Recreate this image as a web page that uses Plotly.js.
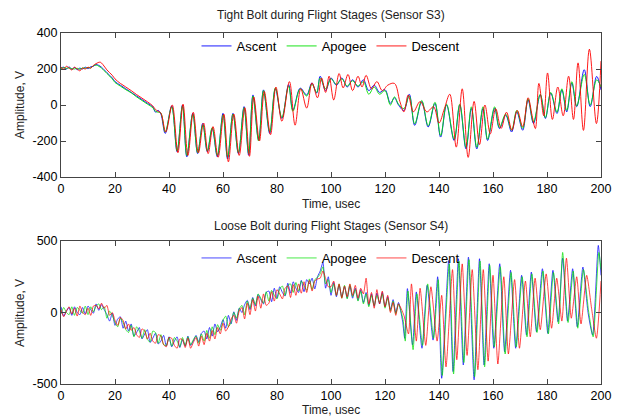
<!DOCTYPE html>
<html>
<head>
<meta charset="utf-8">
<script src="https://cdn.plot.ly/plotly-3.0.1.min.js"></script>
<style>html,body{margin:0;padding:0;background:#fff;}#chart{width:618px;height:417px;}</style>
</head>
<body>
<div id="chart"></div>
<script>
// ---------- Labels and ticks ----------
const seriesNames = ['Ascent', 'Apogee', 'Descent'];
const xTicks = [0, 20, 40, 60, 80, 100, 120, 140, 160, 180, 200];
const xTickText = ['0', '20', '40', '60', '80', '100', '120', '140', '160', '180', '200'];
const s3TickVals = [-400, -200, 0, 200, 400];
const s3TickText = ['-400', '-200', '0', '200', '400'];
const s4TickVals = [-500, 0, 500];
const s4TickText = ['-500', '0', '500'];

// ---------- Data: Tight Bolt (Sensor S3) ----------
// time (usec) shared by Ascent and Apogee traces of S3
const s3Time = [0,1,2,3,4,5,6,7,8,9,10,11,12,13,14,15,17,19,20,22,24,26,28,30,32,34,35,36,37,
  38.6,41,43,45,46.6,48.8,50.6,52.5,54.2,56,57.9,60,61.7,63.7,65.7,67.8,69.5,71.1,73.2,75,77.3,79.4,
  81.8,84.3,85.9,88.6,91,92.9,94.7,96,98,100,
  102,104,106,108,110,112,114,116,118,120,122,123.5,125,127,129,131,133.6,136,138.5,140.6,
  142.8,145.6,147.7,150,152,154,156.3,158,160.6,162.4,164.7,166.9,168.8,171,173,175,177.5,179.4,181.4,183.7,
  185.5,187.3,189.2,191,193.8,196,198.4,200];
const s3Ascent = [205,210,200,212,198,208,196,205,200,210,202,212,215,225,220,210,180,150,130,110,90,70,50,30,10,-10,-40,-30,-50,
  -158,-5,-260,0,-288,-46,-270,-102,-260,-130,-288,-46,-300,-46,-270,-9,-279,56,-195,84,-158,90,
  -75,113,-28,94,56,122,66,160,80,150,
  110,150,100,140,100,140,80,110,70,85,10,40,0,-30,60,-113,19,-122,9,-178,
  0,-197,0,-244,-19,-244,-19,-197,-19,-131,-56,-150,-38,-140,28,-103,56,-75,66,-47,
  84,-38,122,-9,196,-9,159,84];
const s3Apogee = [200,208,204,206,202,200,204,198,206,204,208,206,218,222,215,205,175,145,125,105,85,68,45,25,5,-15,-35,-40,-45,
  -150,-10,-255,-5,-280,-50,-265,-110,-255,-125,-280,-55,-290,-50,-265,-15,-270,50,-200,80,-150,95,
  -70,105,-35,90,50,115,70,150,90,145,
  115,145,105,135,105,130,60,100,60,80,0,45,5,-20,50,-105,25,-115,15,-170,
  5,-190,5,-235,-10,-235,-10,-190,-10,-125,-50,-140,-30,-130,35,-95,60,-70,70,-40,
  90,-30,130,-5,170,0,140,100];
const s3DescentTime = [0,1,2,3,4,5,6,7,8,9,10,11,12,13,14.5,15.5,17,19,20,22,24,26,28,30,32,34,35,36,37,
  38.8,41.2,43.3,45.2,47,49,50.9,52.8,54.5,56.3,58.2,60.3,62,64,66,68.1,69.8,71.4,73.5,75.3,77.6,79.6,
  81.8,84.6,86.7,88.8,91,93,95,96.5,98,99.3,101,103,104.5,106.3,108,110,111.5,113,115,117,119,121,123.5,
  125.5,127,128.6,130.5,133,135.5,138,140,142,144,
  146.4,148.6,150.8,153,155,157,159,161,163,165,
  167,169,171,173,174.5,175.7,177,178.8,180.2,182,
  184,186,188,189.8,191.5,193.5,195.7,198.3,200];
const s3Descent = [210,200,215,205,195,210,200,190,205,200,210,205,220,230,238,225,195,165,145,120,100,80,58,38,18,-5,-25,-35,-45,
  -150,0,-265,5,-280,-40,-265,-100,-270,-120,-290,-50,-316,-50,-280,-15,-285,45,-200,75,-165,100,
  -90,130,-112,90,-17,123,40,150,70,160,28,175,95,170,80,160,100,165,90,130,80,110,120,
  20,-38,56,-38,19,-38,-10,-100,-20,60,
  -234,90,-291,20,-220,0,-160,-20,-130,-40,
  -140,-30,-120,40,-60,-131,120,-60,178,-80,
  100,-60,160,-80,234,-141,310,-103,244];

// ---------- Data: Loose Bolt (Sensor S4) ----------
// noisy part sampled every 1 usec from t = 0 to 125
const s4NoisyStart = 0, s4NoisyStep = 1;
const s4AscentNoisy = [40,-25,10,35,-20,40,0,-15,35,-10,45,20,-5,60,15,
  55,20,-15,-60,-5,-90,-45,-30,-110,-60,-130,
  -80,-165,-140,-105,-185,-150,-120,-210,-180,-145,-220,-200,-160,-235,-170,
  -240,-200,-170,-245,-190,-235,-165,-230,-200,-160,-205,-145,-130,-185,-105,
  -165,-80,-135,-100,-50,-110,-20,-80,5,-55,30,0,55,85,20,
  105,45,125,90,60,140,150,75,170,100,180,140,115,205,135,
  215,170,140,225,145,230,200,240,165,250,290,
  350,170,250,120,210,110,190,110,180,100,185,100,170,85,160,70,140,50,130,45,135,60,140,40,110,20,90,0,70];
const s4ApogeeNoisy = [-10,35,0,-15,40,-20,35,15,-5,45,-15,40,5,45,60,
  20,40,-40,10,-20,-70,-100,-40,-70,-120,-140,
  -90,-170,-100,-130,-180,-120,-190,-205,-130,-140,-215,-155,-225,-230,-175,
  -235,-175,-200,-240,-175,-230,-170,-225,-190,-165,-215,-150,-200,-125,-180,
  -100,-155,-85,-125,-55,-25,-100,-70,0,-40,25,50,-15,80,30,
  100,55,130,100,65,145,80,155,120,95,165,185,120,190,200,
  140,210,150,220,190,155,235,160,230,245,270,
  320,200,230,140,200,120,200,100,190,95,195,110,160,80,150,60,130,40,120,50,120,70,130,30,100,10,80,-10,60];
const s4DescentNoisy = [20,-30,10,40,-10,30,-25,45,0,-15,30,-20,45,50,25,
  65,30,50,-20,0,-55,-90,-35,-55,-115,-80,
  -125,-105,-155,-175,-115,-130,-185,-145,-200,-215,-155,-165,-225,-240,-175,
  -180,-230,-250,-185,-190,-245,-180,-250,-210,-175,-235,-165,-225,-145,-200,
  -125,-185,-105,-150,-75,-130,-100,-45,-20,-75,10,35,-45,65,-15,
  90,10,115,30,130,50,65,145,80,160,130,95,170,185,105,
  195,120,200,135,215,140,225,150,220,235,240,
  290,240,180,180,220,120,200,100,185,110,200,120,190,100,170,130,240,60,140,30,160,60,150,40,120,0,70,-20,60];
// oscillating part: peaks and troughs (time usec, amplitude V)
const s4AscentOscTime = [126.5,127.3,128.3,130.2,131.6,133.7,135.6,137.8,139.5,141,
  143.6,145.2,147.2,149,150.9,153,155,156.7,158.6,160.3,
  162.5,164.3,166.5,168.4,170.6,172.4,174.2,176.1,178.3,180.3,
  182.2,184.1,185.8,187.6,189.5,191.2,193.3,195.2,196.9,199,200];
const s4AscentOsc = [-60,-181,167,-227,144,-250,190,-193,250,-460,
  364,-413,376,-367,387,-471,376,-367,341,-250,
  341,-274,295,-250,260,-158,283,-135,306,-146,
  295,-65,380,-60,306,-100,318,0,-158,469,260];
const s4ApogeeOscTime = [126.7,127.5,128.5,130.4,131.8,133.9,135.8,138,139.7,141.2,
  143.8,145.4,147.4,149.2,151.1,153.2,155.2,156.9,158.8,160.5,
  162.7,164.5,166.7,168.6,170.8,172.6,174.4,176.3,178.5,180.5,
  182.4,184.3,185.8,187.8,189.7,191.4,193.5,195.4,197.1,199.2,200];
const s4ApogeeOsc = [-50,-200,150,-260,130,-230,200,-180,230,-440,
  340,-430,360,-350,370,-450,360,-380,330,-240,
  320,-290,280,-240,250,-170,270,-140,290,-150,
  280,-80,420,-70,290,-110,300,10,-170,420,300];
const s4DescentOscTime = [127,128.7,129.8,131.6,133,135.1,137,139.3,141,142.6,
  145,146.6,148.6,150.4,152.3,154.4,156.4,158.2,160,161.8,
  164,165.7,168,169.8,172,173.8,175.6,177.5,179.7,181.7,
  183.6,185.5,187.2,189,191,192.6,194.7,196.5,198.3,200];
const s4DescentOsc = [-20,-150,200,-200,170,-230,180,-200,120,-380,
  300,-330,340,-300,300,-400,300,-340,260,-360,
  250,-290,230,-250,220,-170,240,-120,270,-110,
  240,-60,380,-40,250,-80,260,30,-180,220];

// ---------- Build traces ----------
const colors = ['#0000ff', '#00e000', '#ff0000'];
function noisyTimes(n) { const t = []; for (let i = 0; i < n; i++) t.push(s4NoisyStart + i * s4NoisyStep); return t; }

const s3Sets = [[s3Time, s3Ascent], [s3Time, s3Apogee], [s3DescentTime, s3Descent]];
const s4Sets = [
  [noisyTimes(s4AscentNoisy.length).concat(s4AscentOscTime), s4AscentNoisy.concat(s4AscentOsc)],
  [noisyTimes(s4ApogeeNoisy.length).concat(s4ApogeeOscTime), s4ApogeeNoisy.concat(s4ApogeeOsc)],
  [noisyTimes(s4DescentNoisy.length).concat(s4DescentOscTime), s4DescentNoisy.concat(s4DescentOsc)]
];

const traces = [];
s3Sets.forEach((d, i) => traces.push({
  x: d[0], y: d[1], type: 'scatter', mode: 'lines', name: seriesNames[i],
  line: {color: colors[i], width: 0.9, shape: 'spline', smoothing: 1},
  xaxis: 'x', yaxis: 'y', legend: 'legend'
}));
s4Sets.forEach((d, i) => traces.push({
  x: d[0], y: d[1], type: 'scatter', mode: 'lines', name: seriesNames[i],
  line: {color: colors[i], width: 0.9, shape: 'spline', smoothing: 0.6},
  opacity: 0.8,
  xaxis: 'x2', yaxis: 'y2', legend: 'legend2'
}));

const axisCommon = {
  showline: true, linecolor: '#444', linewidth: 1, mirror: 'ticks',
  ticks: 'inside', ticklen: 5, tickcolor: '#444',
  showgrid: false, zeroline: false,
  tickfont: {size: 12.5, color: '#000'}
};
const legendCommon = {
  orientation: 'h', x: 0.5, xanchor: 'center', yanchor: 'middle',
  bgcolor: 'rgba(0,0,0,0)', borderwidth: 0, font: {size: 13, color: '#000'},
  itemwidth: 30, tracegroupgap: 0
};
function ann(text, x, y, angle) {
  return {text: text, xref: 'paper', yref: 'paper', x: x, y: y, showarrow: false,
    xanchor: 'center', yanchor: 'middle', textangle: angle || 0,
    font: {size: 12, color: '#222'}};
}

const layout = {
  width: 618, height: 417,
  margin: {l: 61, r: 17, t: 33, b: 33},
  paper_bgcolor: '#fff', plot_bgcolor: '#fff',
  font: {family: 'Liberation Sans, Arial, Helvetica, sans-serif', size: 12, color: '#000'},
  showlegend: true,
  xaxis: Object.assign({}, axisCommon, {domain: [0, 1], anchor: 'y', range: [0, 200], tickvals: xTicks, ticktext: xTickText}),
  yaxis: Object.assign({}, axisCommon, {domain: [0.5897, 1], anchor: 'x', range: [-400, 400], tickvals: s3TickVals, ticktext: s3TickText}),
  xaxis2: Object.assign({}, axisCommon, {domain: [0, 1], anchor: 'y2', range: [0, 200], tickvals: xTicks, ticktext: xTickText}),
  yaxis2: Object.assign({}, axisCommon, {domain: [0, 0.4074], anchor: 'x2', range: [-500, 500], tickvals: s4TickVals, ticktext: s4TickText}),
  legend: Object.assign({}, legendCommon, {y: 0.963}),
  legend2: Object.assign({}, legendCommon, {y: 0.359}),
  annotations: [
    ann('Tight Bolt during Flight Stages (Sensor S3)', 0.5, 1.0513),
    ann('Time, usec', 0.5, 0.5128),
    ann('Amplitude, V', -0.076, 0.7949, -90),
    ann('Loose Bolt during Flight Stages (Sensor S4)', 0.5, 0.4501),
    ann('Time, usec', 0.5, -0.074),
    ann('Amplitude, V', -0.076, 0.2023, -90)
  ]
};

Plotly.newPlot('chart', traces, layout, {displayModeBar: false, staticPlot: true});
</script>
</body>
</html>
